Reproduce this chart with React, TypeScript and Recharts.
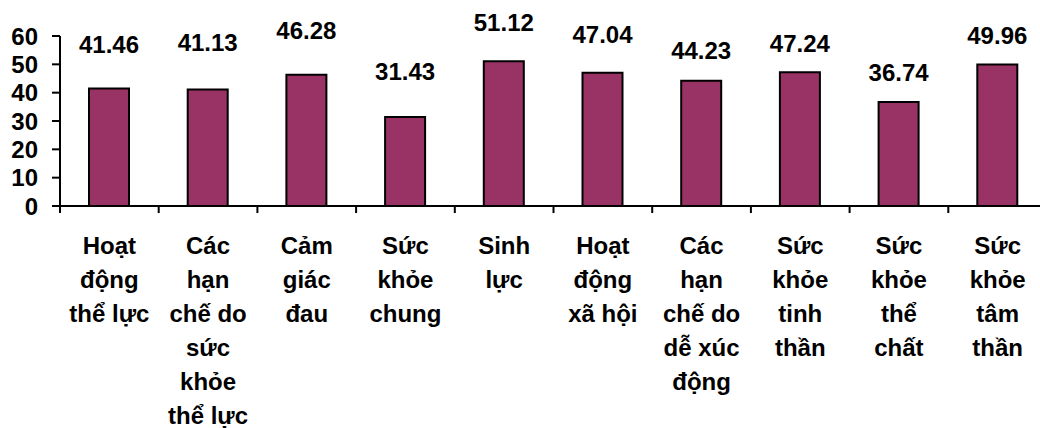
import React from "react";
import { Bar, BarChart, LabelList, XAxis, YAxis } from "recharts";

const categories = [
  "Hoạt\nđộng\nthể lực",
  "Các\nhạn\nchế do\nsức\nkhỏe\nthể lực",
  "Cảm\ngiác\nđau",
  "Sức\nkhỏe\nchung",
  "Sinh\nlực",
  "Hoạt\nđộng\nxã hội",
  "Các\nhạn\nchế do\ndễ xúc\nđộng",
  "Sức\nkhỏe\ntinh\nthần",
  "Sức\nkhỏe\nthể\nchất",
  "Sức\nkhỏe\ntâm\nthần",
];
const scores = [41.46, 41.13, 46.28, 31.43, 51.12, 47.04, 44.23, 47.24, 36.74, 49.96];
const yTicks = [0, 10, 20, 30, 40, 50, 60];

const data = categories.map((name, i) => ({ name, score: scores[i] }));

const FONT = '"Liberation Sans", Arial, sans-serif';
const CHART_W = 1047;
const CHART_H = 428;
const AXIS_W = 60;
const STEP = (CHART_W - AXIS_W) / categories.length;

// how far each value label floats above its bar (px, label centre to bar top)
const labelLift = [44, 46, 44, 45, 38, 38, 30, 28, 29, 28];

const CategoryTick = (props: any) => {
  const { x, y, payload } = props;
  const axisY = y - 7;
  const lines = String(payload.value).split("\n");
  return (
    <g>
      <line x1={x - STEP / 2} x2={x - STEP / 2} y1={axisY} y2={axisY + 7} stroke="#000" strokeWidth={2} />
      <text x={x} y={axisY + 48} textAnchor="middle" fontFamily={FONT} fontWeight="bold" fontSize={24} fill="#000">
        {lines.map((l, i) => (
          <tspan key={i} x={x} dy={i === 0 ? 0 : 34}>
            {l}
          </tspan>
        ))}
      </text>
    </g>
  );
};

const ValueLabel = (props: any) => {
  const { x, y, width, value, index } = props;
  return (
    <text
      x={x + width / 2}
      y={y - labelLift[index] + 8}
      textAnchor="middle"
      fontFamily={FONT}
      fontWeight="bold"
      fontSize={24}
      fill="#000"
    >
      {value.toFixed(2)}
    </text>
  );
};

export default function App() {
  return (
    <div style={{ position: "fixed", left: 0, top: 0, width: 1040, height: 428, overflow: "hidden", background: "#fff" }}>
      <BarChart
        width={CHART_W}
        height={CHART_H}
        data={data}
        margin={{ top: 36, right: 0, left: 0, bottom: 0 }}
        barCategoryGap={0}
      >
        <XAxis
          dataKey="name"
          interval={0}
          height={222}
          tickSize={7}
          tickMargin={0}
          tickLine={false}
          axisLine={{ stroke: "#000", strokeWidth: 2 }}
          tick={<CategoryTick />}
        />
        <YAxis
          width={AXIS_W}
          domain={[0, 60]}
          ticks={yTicks}
          interval={0}
          tickSize={8}
          tickMargin={14}
          axisLine={{ stroke: "#000", strokeWidth: 2 }}
          tickLine={{ stroke: "#000", strokeWidth: 2 }}
          tick={{ fill: "#000", fontFamily: FONT, fontWeight: "bold", fontSize: 24 }}
        />
        <Bar dataKey="score" fill="#993366" stroke="#000" strokeWidth={2} barSize={40} isAnimationActive={false}>
          <LabelList dataKey="score" content={<ValueLabel />} />
        </Bar>
      </BarChart>
    </div>
  );
}
